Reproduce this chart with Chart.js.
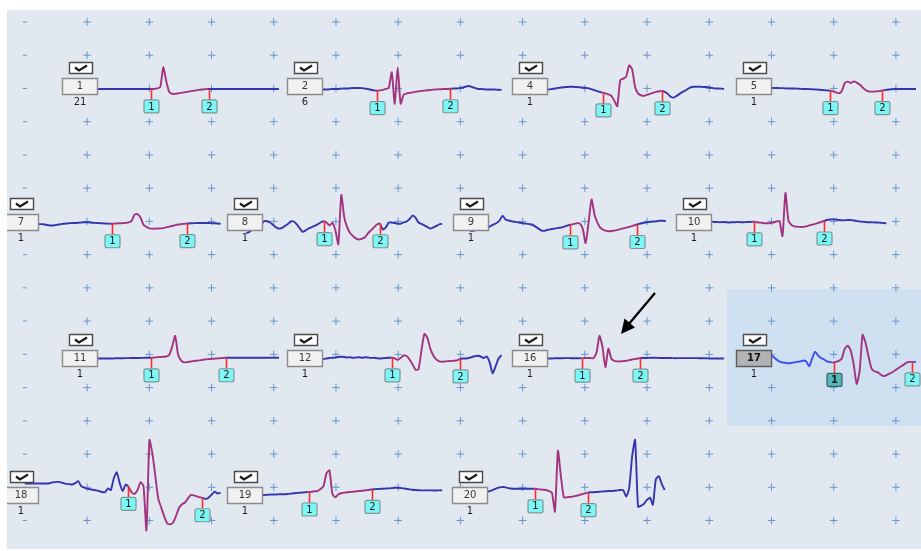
<!DOCTYPE html>
<html>
<head>
<meta charset="utf-8">
<script src="https://cdn.jsdelivr.net/npm/chart.js@4.4.0/dist/chart.umd.min.js"></script>
<style>
  html, body { margin: 0; padding: 0; background: #fff; }
  #wrap { width: 921px; height: 551px; }
</style>
</head>
<body>
<div id="wrap"><canvas id="mups" width="921" height="551"></canvas></div>
<script>
// motor unit ids, firing counts and marker positions (in sample index)
const unitIds = ['1', '2', '4', '5', '7', '8', '9', '10', '11', '12', '16', '17', '18', '19', '20']
const firingCounts = [21, 6, 1, 1, 1, 1, 1, 1, 1, 1, 1, 1, 1, 1, 1]
const marker1 = [23, 24, 25.3, 27, 29.3, 26.3, 33.7, 21.3, 23, 29, 18, 28.3, 34.7, 21, 22.3]
const marker2 = [42.3, 48.7, 45, 44.7, 54.7, 45, 56.3, 45, 48.3, 52, 37.7, 54.7, 59.7, 42.3, 40]
const selectedUnit = '17'

// averaged waveforms, amplitude per sample (positive up)
const mup1 = [0,0,0,0,0,0,0,0,0,0,0,0,0,0,0,0,0,0,0,0,0,0,0,0,0, 0.5,2,22,8,-3,-5,-5,-4.5,-4,-3.5,-3,-2.5,-2,-1.5,-1,-0.6,-0.3, 0,0,0,0,0,0,0,0,0,0,0,0,0,0,0,0,0,0,0,0,0,0,0,0,0]
const mup2 = [-0.5,-0.5,-0.5,-0.5,-0.5,-0.5, -0.5,-0.5,-0.3,0,0,0,0.3,0.5,0.5,0.7, 1,1,1,0.8,0.3,0,-0.8,-1.5,-1.7,-1.5, -1,0,1,17,-15,22,-15,-6,-4.5,-4, -3.5,-3,-2.5,-2,-1.7,-1.3,-1,-0.7,-0.5,-0.3, -0.2,0,0,0.3,0.5,0.5,1,1.5,2.5,3, 2,1,0,0,-0.3,-0.5,-0.5,-0.5,-0.7,-0.8, -1]
const mup4 = [-1.2,-1.2,-1.2,-1.2,-1.2,-1.2, -1.2,-0.5,0,0.5,1,1.5,1.8,2,2.2,2.2, 2,1.8,1.5,1.2,0.8,0,-1,-2,-3,-3.8, -4.5,-5.5,-7,-12,-17.5,9,10.5,12.5,24,20, 2,-4.5,-6.5,-7,-6,-5,-4,-3,-2.5,-2, -3,-5,-8,-8.8,-7,-5,-3,-1.5,0.5,2, 2.2,2.2,2.2,2,2,1.5,1,0.5,0.5,0.3, 0]
const mup5 = [1,1,1,1,1,1, 1,1,1,1,0.8,0.8,0.6,0.5,0.5,0.4, 0.3,0.2,0,0,-0.2,-0.3,-0.5,-0.7,-1,-1.2, -1.5,-1.7,-2.5,-3.5,-4.5,-2,6,7.5,6,7.7, 6.5,4.5,1.5,-1,-2.5,-2.7,-2.7,-2.3,-2,-1.5, -1,-0.5,-0.3,0,0,0,0,0,0,0, 0,0,0,0,0,0,0,0,0,0, 0]
const mup7 = [-1.7,-1.7,-1.7,-1.7,-1.7,-1.7, -1.7,-2.3,-2.8,-3,-2.8,-2.3,-1.8,-1.3,-1,-0.8, -0.5,-0.5,-0.3,0,0.2,0.3,0,-0.3,-0.5,-0.7, -0.8,-1,-1.2,-1.3,-1.2,-1,-0.8,-0.7,-0.5,0, 1.7,8,8.5,5,-2.3,-4.5,-6,-6.3,-6.3,-6.2, -6,-5.5,-4.7,-4,-3.3,-2.5,-2,-1.5,-1.3,-1, -0.8,-0.7,-0.5,-0.5,-0.5,-0.5,-0.5,-0.7,-0.8,-1, -1.3]
const mup8 = [-11,-9.5,-7.5,-5.5,-3.5,-2,1.3,1.3,0,-2.5, -5,-6.3,-5.5,-3.5,-1.5,1,1,-2,-6,-9.5, -8,-6,-4.7,-3.5,-2,0,1.3,0,-3,-0.3, -8,-22,28,5,-5,-11,-14,-16.5,-17.3,-16.5, -15,-11,-8,-5,-2,-1.3,-7,-5,0,0, -0.5,-1.3,-1.3,0,1,3.5,7,5,0,-1.5, -3,-4.5,-6.3,-5,-3.5,-2,-1.3]
const mup9 = [-8.5,-8.5,-7.5,-7,-6.5,-6,-5.5,-3.5,-2,-0.5, 2,7,3,2,1.3,0.8,0.3,-0.3,-0.8,-1.2, -1.7,-2.3,-4,-6,-8,-8.5,-7.7,-7,-6.5,-6, -5.5,-5,-4,-3,-2.3,-1.5,-0.8,-1,-6,-21, 0,23.5,8,-0.5,-5.5,-7.5,-8.5,-9,-8.5,-8, -7.3,-6.5,-5.7,-5,-4.3,-3.3,-2.3,-1.5,-0.8,-0.2, 0.3,0.8,1,1.3,1.7,1.7,1.5]
const mup10 = [1.5,1.5,1.5,1.5,1.5,1.5,1.5,1,0.5,0.5, 0.3,0.5,0.3,0,0.3,0.3,0.5,0.3,0.3,0.5, 0.5,0.8,0.5,0,-0.3,-0.8,-0.8,-0.5,0,1, 1.5,-14,30,2,-2.5,-4,-4.3,-4.5,-4.5,-4, -3,-2.2,-1.5,-0.5,0.5,1.5,2.5,3,3.2,3, 2.5,2.2,2.2,2.5,2.5,2,1.5,1,0.8,0.5, 0.3,0.3,0,0,-0.3,-0.5,-0.8]
const mup11 = [-2,-2,-2,-2,-2,-2,-2,-2,-2,-2, -2,-1.8,-1.8,-1.8,-1.7,-1.7,-1.6,-1.5,-1.5,-1.5, -1.4,-1.3,-1.3,-1.3,-1,-0.8,-0.5,-0.3,0,1.5, 10,21,2,-4,-6,-5.7,-5.2,-4.7,-4.3,-4, -3.5,-3,-2.7,-2.5,-2.3,-2,-1.8,-1.5,-1.3,-1.2, -1.2,-1.2,-1.2,-1.2,-1.2,-1.2,-1.2,-1.2,-1.2,-1.2, -1.2,-1.2,-1.2,-1.2,-1.2,-1.2,-1.2]
const mup12 = [-2,-2,-2,-2,-2,-2,-2.7,-2,-1.5,-1.3, -1,-0.5,-0.3,-0.5,-1,-0.8,-1.3,-1,-0.7,-1.3, -0.7,-1,-1.5,-1.3,-1.7,-2,-1.8,-1.5,-1.3,-1.3, -2,-3.5,-1.5,1,0.5,-3,-8,-13.5,-13,6, 23,19,8,1,-3,-5,-5.3,-5,-4.7,-4.5, -4.3,-4,-2.5,-2,-2,-1.5,-0.5,0.3,0.7,0, -1.5,0,-6,-17,-10,-2,1.3]
const mup16 = [-2,-2,-2,-2,-2,-2,-2,-2,-2,-1.8, -1.8,-1.8,-1.7,-1.7,-1.7,-1.8,-1.8,-1.8,-1.7,-1.5, -1.5,-1.5,-1.7,4,21,10,-11,8,-2,-4.5, -5,-5,-4.7,-4.5,-3.7,-3,-2.5,-2,-1.5,-1.5, -1.5,-1.3,-1.3,-1.3,-1.5,-1.5,-1.5,-1.5,-1.5,-1.7, -1.7,-1.7,-1.7,-1.7,-1.7,-1.7,-1.7,-1.7,-1.8,-1.8, -1.8,-2,-2,-2,-2,-2,-2]
const mup17 = [3,3,3,3,3,3,3,1.5,-0.5,-3, -5.3,-6,-6.5,-7,-6.5,-6,-5.5,-5,-4,-5, -10,-2,5,1,-1.5,-3,-5,-5.7,-6.2,-5.5, -4.5,-2,8,11,6,-8,-28,-15,22,14, 0,-12,-15,-16,-18,-20,-19,-17.5,-16,-14, -12,-10,-8,-6,-5.5,-5.5,-5.5,-5,-5,-5, -5,-5,-5,-5,-5,-5,-5]
const mup18 = [7.7,7.7,7.7,7.7,7.7,7.7,7.7,7.7,7.7,8.5, 9,9.3,9,8,7.3,7,6.7,8,10,5, 3.5,2.5,1.8,1.2,0.7,0,-1,-1.3,2.5,1, 13,19,8,0,6.7,4,-1.5,-3,1,9, 5,-40,52,38,15,-8,-17,-26,-33,-34, -32,-25,-17,-13.5,-11.7,-7.5,-4,-4.5,-5.5,-6.5, -7,-8,-6.5,-3.5,-0.7,-2.5,-1.7]
const mup19 = [-4,-4,-4,-4,-4,-4,-4,-3.8,-3.7,-3.5, -3.5,-3.3,-3.3,-3.3,-3,-2.7,-2.3,-2,-1.7,-1.5, -1.2,-1,-0.7,-0.3,0,2,5,18,21,-3, -6.3,-3.3,-2.3,-1.7,-1.3,-1,-0.7,-0.3,0,0.3, 0.7,1,1.5,1.8,2,2.2,2.3,2.5,2.7,3, 3.3,3.3,3,2.7,2.2,1.7,1.3,1,0.8,0.7, 0.7,0.7,0.7,0.5,0.5,0.7,0.7]
const mup20 = [-1,-1,-1,-1,-1,-1,-1,0,1,2.3, 3.5,4,4,3.2,2.5,2.3,2.3,2.3,2.3,2.3, 2.3,2.3,2.3,2,1.7,1.3,1,0,-2,-21, 41,15,-6.5,-6.3,-6,-5.7,-5,-4.3,-3.3,-2.5, -1.7,-1.3,-1.2,-1,-0.8,-0.5,-0.3,0,0,0.3, 0.7,1,1,-5.7,3,35,52,-16,-15,-13, -9,-6.7,-14,12,15,7,1]

const waveforms = [mup1, mup2, mup4, mup5, mup7, mup8, mup9, mup10, mup11, mup12, mup16, mup17, mup18, mup19, mup20]

// page layout
const W = 921, H = 551
const ROW_BASE = [85.5, 221.5, 358, 495]
const ROW_LEFT = [[62, 287, 512, 736], [3, 227, 453, 676], [62, 287, 512, 736], [3, 227, 452]]
const SAMPLE_PX = 3
const LEAD_PX = 17
const GRID_X0 = 83, GRID_DX = 62.9, GRID_Y0 = 17.3, GRID_DY = 33.85

const BLUE = '#3535ad', MAGENTA = '#a3337f', BLUE_SEL = '#3b4cf5'
const GRID_COLOR = '#6797cc'

const cells = []
let k = 0
ROW_LEFT.forEach((lefts, r) => {
  lefts.forEach(left => {
    cells.push({ id: unitIds[k], count: firingCounts[k], amps: waveforms[k], m1: marker1[k], m2: marker2[k], left: left, base: ROW_BASE[r] })
    k++
  })
})

const gridPts = []
const dashPts = []
for (let j = 0; j < 16; j++) {
  const y = GRID_Y0 + j * GRID_DY
  dashPts.push({ x: GRID_X0 - GRID_DX, y: y })
  for (let i = 0; i < 14; i++) gridPts.push({ x: GRID_X0 + i * GRID_DX, y: y })
}

const datasets = [
  { data: gridPts, showLine: false, pointStyle: 'cross', pointRadius: 3.8, pointBorderColor: GRID_COLOR, pointBorderWidth: 1, order: 10 },
  { data: dashPts, showLine: false, pointStyle: 'line', pointRadius: 2, pointBorderColor: GRID_COLOR, pointBorderWidth: 1, order: 10 }
]
cells.forEach(c => {
  const x0 = c.left + LEAD_PX
  const blue = c.id === selectedUnit ? BLUE_SEL : BLUE
  datasets.push({
    data: c.amps.map((a, i) => ({ x: x0 + i * SAMPLE_PX, y: c.base - a })),
    borderWidth: 1.9,
    pointRadius: 0,
    tension: 0.2,
    borderColor: blue,
    segment: {
      borderColor: s => {
        const mid = s.p0DataIndex + 0.5
        return mid > c.m1 && mid < c.m2 ? MAGENTA : blue
      }
    },
    order: 0
  })
})

function box(ctx, x, y, w, h, fill, stroke, lw, r) {
  ctx.beginPath()
  if (r && ctx.roundRect) ctx.roundRect(x, y, w, h, r)
  else ctx.rect(x, y, w, h)
  ctx.fillStyle = fill
  ctx.fill()
  ctx.lineWidth = lw
  ctx.strokeStyle = stroke
  ctx.stroke()
}

function ampAt(arr, m) {
  const i = Math.floor(m), f = m - i
  return arr[i] * (1 - f) + arr[Math.min(i + 1, arr.length - 1)] * f
}

const panelPlugin = {
  id: 'panel',
  beforeDraw(chart) {
    const ctx = chart.ctx
    ctx.save()
    ctx.fillStyle = '#ffffff'
    ctx.fillRect(0, 0, W, H)
    ctx.fillStyle = '#e1e8f0'
    ctx.fillRect(7, 10, W - 7, 539)
    const sel = cells.find(c => c.id === selectedUnit)
    ctx.fillStyle = '#cfe0f1'
    ctx.fillRect(sel.left - 9, sel.base - 69, W - sel.left + 9, 137)
    ctx.restore()
  },
  afterDatasetsDraw(chart) {
    const ctx = chart.ctx
    const xs = chart.scales.x, ys = chart.scales.y
    ctx.save()
    ctx.beginPath()
    ctx.rect(7, 10, W - 7, 539)
    ctx.clip()
    ctx.textAlign = 'center'
    ctx.textBaseline = 'middle'
    cells.forEach(c => {
      const sel = c.id === selectedUnit
      const x0 = c.left + LEAD_PX
      // markers 1 and 2
      ;[c.m1, c.m2].forEach((m, n) => {
        const px = Math.round(xs.getPixelForValue(x0 + m * SAMPLE_PX)) + 0.5
        const py = ys.getPixelForValue(c.base - ampAt(c.amps, m))
        ctx.beginPath()
        ctx.moveTo(px, py)
        ctx.lineTo(px, py + 11)
        ctx.strokeStyle = '#ff2a2a'
        ctx.lineWidth = 1.6
        ctx.stroke()
        const dark = sel && n === 0
        box(ctx, px - 7.5, py + 11, 15, 13, dark ? '#55b8b8' : '#7df6f6', dark ? '#3d5f5f' : '#7f9696', 1.2, 2)
        ctx.fillStyle = '#1c1c1c'
        ctx.font = (dark ? 'bold ' : '') + '10px "DejaVu Sans"'
        ctx.fillText(String(n + 1), px, py + 18)
      })
      // check box
      const bx = c.left, by = Math.round(c.base)
      box(ctx, bx + 7.5, by - 23.5, 23, 11, '#ffffff', '#4a4a4a', 1.4)
      ctx.beginPath()
      ctx.moveTo(bx + 13, by - 18.5)
      ctx.lineTo(bx + 17, by - 15.5)
      ctx.lineTo(bx + 25, by - 20.5)
      ctx.strokeStyle = '#1a1a1a'
      ctx.lineWidth = 2.2
      ctx.stroke()
      // unit label
      box(ctx, bx + 0.5, by - 7.5, 35, 16, sel ? '#b3b3b3' : '#f1f1f1', sel ? '#5e5e5e' : '#8c8c8c', 1.4)
      ctx.fillStyle = sel ? '#111' : '#3a3a3a'
      ctx.font = (sel ? 'bold ' : '') + '10px "DejaVu Sans"'
      ctx.fillText(c.id, bx + 18, by + 0.5)
      ctx.fillStyle = '#1e1e1e'
      ctx.font = '10px "DejaVu Sans"'
      ctx.fillText(String(c.count), bx + 18, by + 16)
    })
    // arrow pointing at unit 16
    ctx.beginPath()
    ctx.moveTo(655, 293)
    ctx.lineTo(628, 325)
    ctx.strokeStyle = '#000'
    ctx.lineWidth = 2.2
    ctx.stroke()
    ctx.beginPath()
    ctx.moveTo(621, 334)
    ctx.lineTo(624.5, 318.5)
    ctx.lineTo(635, 327.5)
    ctx.closePath()
    ctx.fillStyle = '#000'
    ctx.fill()
    ctx.restore()
  }
}

new Chart(document.getElementById('mups').getContext('2d'), {
  type: 'line',
  data: { datasets: datasets },
  options: {
    responsive: false,
    animation: false,
    devicePixelRatio: 1,
    events: [],
    layout: { padding: 0 },
    plugins: { legend: { display: false }, tooltip: { enabled: false } },
    scales: {
      x: { type: 'linear', min: 0, max: W, display: false },
      y: { type: 'linear', min: 0, max: H, reverse: true, display: false }
    }
  },
  plugins: [panelPlugin]
})
</script>
</body>
</html>
